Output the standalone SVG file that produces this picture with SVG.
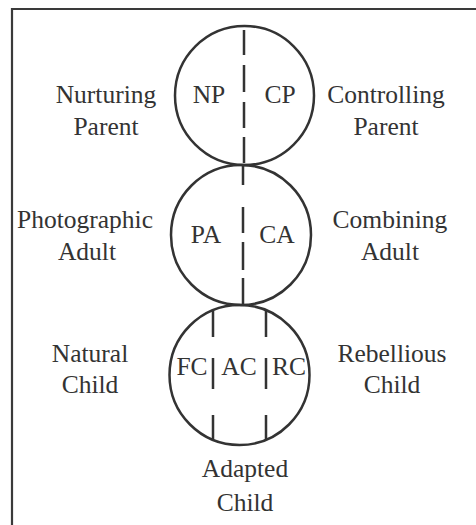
<svg xmlns="http://www.w3.org/2000/svg" width="476" height="525" viewBox="0 0 476 525">
<style>
.c{fill:none;stroke:#333;stroke-width:2.5}
.d{stroke:#333;stroke-width:2.5;fill:none}
text{font-family:"Liberation Serif","Times New Roman",serif;font-size:25.5px;fill:#333;text-anchor:middle}
</style>
<rect x="0" y="0" width="476" height="525" fill="#fff"/>
<path d="M12 530 V9 H480" fill="none" stroke="#3a3a3a" stroke-width="2.2"/>
<g id="parent">
<circle class="c" cx="244.5" cy="95.5" r="69.5"/>
<text x="209" y="103">NP</text>
<text x="280" y="103">CP</text>
</g>
<g id="adult">
<circle class="c" cx="241" cy="235" r="70"/>
<text x="206" y="243">PA</text>
<text x="277" y="243">CA</text>
</g>
<g id="child">
<circle class="c" cx="239.5" cy="375" r="70"/>
<text x="192" y="375">FC</text>
<text x="239" y="375">AC</text>
<text x="289" y="375">RC</text>
</g>
<g id="connectors">
<path class="d" d="M244 30V55M244 65V92M244 102V128M244 137V163"/>
<path class="d" d="M243 165V185M243 207V233M243 242V270M243 278V305"/>
<path class="d" d="M213 310V337M213 358V389M213 415V440"/>
<path class="d" d="M266 310V337M266 358V389M266 415V440"/>
</g>
<g id="labels">
<text x="106" y="103">Nurturing</text>
<text x="106" y="135">Parent</text>
<text x="386" y="103">Controlling</text>
<text x="386" y="135">Parent</text>
<text x="85" y="228">Photographic</text>
<text x="87" y="260">Adult</text>
<text x="390" y="228">Combining</text>
<text x="390" y="260">Adult</text>
<text x="90" y="362">Natural</text>
<text x="90" y="393">Child</text>
<text x="392" y="362">Rebellious</text>
<text x="392" y="393">Child</text>
<text x="245" y="477">Adapted</text>
<text x="245" y="511">Child</text>
</g>
</svg>
